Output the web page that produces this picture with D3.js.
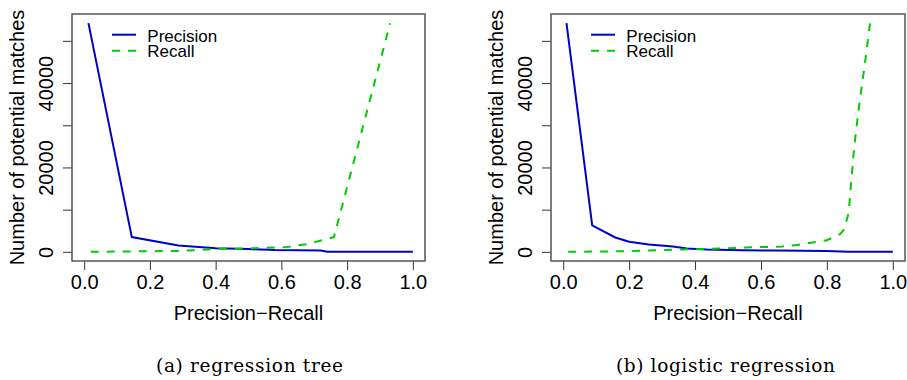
<!DOCTYPE html>
<html>
<head>
<meta charset="utf-8">
<script src="https://cdn.jsdelivr.net/npm/d3@7"></script>
<style>
  body { margin: 0; background: #fff; }
  svg { display: block; }
</style>
</head>
<body>
<svg id="chart" width="907" height="380"></svg>
<script>
// values: [precision-recall threshold, number of potential matches]
const treePrecision = [[0.013, 54200], [0.145, 3500], [0.287, 1500], [0.40, 850], [0.50, 650], [0.58, 420], [0.72, 320], [0.74, 0], [1.0, 0]]
const treeRecall = [[0.02, 0], [0.15, 100], [0.29, 230], [0.40, 650], [0.535, 900], [0.617, 1150], [0.68, 1850], [0.76, 3500], [0.931, 54200]]
const logPrecision = [[0.010, 54200], [0.088, 6250], [0.158, 3400], [0.20, 2400], [0.26, 1750], [0.333, 1260], [0.375, 800], [0.435, 550], [0.54, 380], [0.65, 300], [0.80, 200], [0.865, 0], [1.0, 0]]
const logRecall = [[0.015, 0], [0.20, 150], [0.36, 550], [0.50, 850], [0.555, 1050], [0.664, 1250], [0.71, 1650], [0.80, 2750], [0.84, 4200], [0.852, 5300], [0.866, 9200], [0.882, 24200], [0.896, 33600], [0.914, 43900], [0.931, 54200]]

const xTicks = [0, 0.2, 0.4, 0.6, 0.8, 1.0]
const yTicks = [0, 10000, 20000, 30000, 40000, 50000]
const yLabelled = [0, 20000, 40000]
const seriesNames = ["Precision", "Recall"]
const captions = ["(a) regression tree", "(b) logistic regression"]

const blue = "#0000cd", green = "#00cd00"
const font = "'Liberation Sans', Arial, Helvetica, sans-serif"
const svg = d3.select("#chart")

const panels = [
  { left: 72, right: 425, precision: treePrecision, recall: treeRecall, caption: captions[0], capX: 249.5, capW: 187 },
  { left: 551, right: 905, precision: logPrecision, recall: logRecall, caption: captions[1], capX: 725.5, capW: 219 }
]
const boxTop = 14, boxBottom = 261

function drawPanel(p) {
  const x = d3.scaleLinear().domain([-0.037, 1.037]).range([p.left, p.right])
  const y = d3.scaleLinear().domain([-2168, 56368]).range([boxBottom, boxTop])
  const g = svg.append("g")

  const line = d3.line().x(d => x(d[0])).y(d => y(d[1]))

  g.append("path").datum(p.precision)
    .attr("d", line).attr("fill", "none")
    .attr("stroke", blue).attr("stroke-width", 2)
  g.append("path").datum(p.recall)
    .attr("d", line).attr("fill", "none")
    .attr("stroke", green).attr("stroke-width", 2)
    .attr("stroke-dasharray", "8,8")

  // x axis
  const xa = g.append("g").attr("transform", `translate(0,${boxBottom})`)
    .call(d3.axisBottom(x).tickValues(xTicks).tickSize(9).tickFormat(d3.format(".1f")))
  xa.select(".domain").remove()
  xa.selectAll("line").attr("stroke", "#333")
  xa.selectAll("text").attr("y", 28.3).attr("dy", null)
    .attr("font-family", font).attr("font-size", 20).attr("fill", "#000")

  // y axis, labels parallel to axis like R
  const ya = g.append("g").attr("transform", `translate(${p.left},0)`)
    .call(d3.axisLeft(y).tickValues(yTicks).tickSize(9)
      .tickFormat(d => yLabelled.includes(d) ? d : ""))
  ya.select(".domain").remove()
  ya.selectAll("line").attr("stroke", "#333")
  ya.selectAll("text").attr("x", null).attr("dy", null)
    .attr("transform", "translate(-18.7,0) rotate(-90)")
    .attr("text-anchor", "middle")
    .attr("font-family", font).attr("font-size", 20).attr("fill", "#000")

  // box
  g.append("rect")
    .attr("x", p.left).attr("y", boxTop)
    .attr("width", p.right - p.left).attr("height", boxBottom - boxTop)
    .attr("fill", "none").attr("stroke", "#555").attr("stroke-width", 1.5)

  // titles
  g.append("text")
    .attr("x", (p.left + p.right) / 2).attr("y", 319.5)
    .attr("text-anchor", "middle")
    .attr("font-family", font).attr("font-size", 20)
    .text("Precision\u2212Recall")
  g.append("text")
    .attr("transform", `translate(${p.left - 48.5},${(boxTop + boxBottom) / 2}) rotate(-90)`)
    .attr("text-anchor", "middle")
    .attr("font-family", font).attr("font-size", 20)
    .text("Number of potential matches")

  // legend
  const lg = g.append("g").attr("transform", `translate(${p.left + 40},0)`)
  lg.selectAll("line").data(seriesNames).join("line")
    .attr("x1", 0).attr("x2", 24)
    .attr("y1", (d, i) => 34.7 + i * 16).attr("y2", (d, i) => 34.7 + i * 16)
    .attr("stroke", (d, i) => i ? green : blue).attr("stroke-width", 2)
    .attr("stroke-dasharray", (d, i) => i ? "8,8" : null)
  lg.selectAll("text").data(seriesNames).join("text")
    .attr("x", 35.3).attr("y", (d, i) => 41.7 + i * 15.6)
    .attr("font-family", font).attr("font-size", 17)
    .text(d => d)

  // caption
  svg.append("text")
    .attr("x", p.capX).attr("y", 371.7)
    .attr("text-anchor", "middle")
    .attr("font-family", "'DejaVu Serif', 'Liberation Serif', serif")
    .attr("font-size", 18.5)
    .attr("textLength", p.capW).attr("lengthAdjust", "spacing")
    .text(p.caption)
}

panels.forEach(drawPanel)
</script>
</body>
</html>
